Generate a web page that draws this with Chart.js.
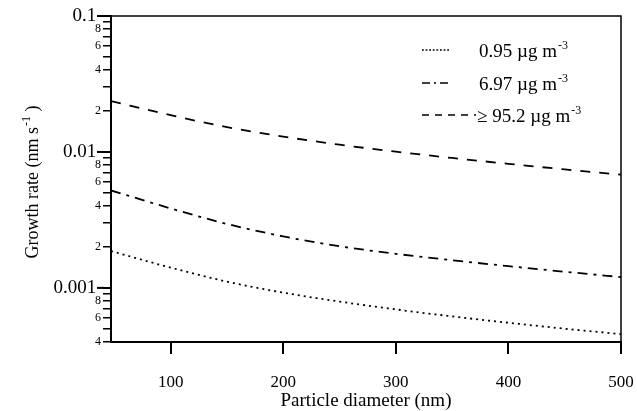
<!DOCTYPE html>
<html>
<head>
<meta charset="utf-8">
<script src="https://cdn.jsdelivr.net/npm/chart.js@4.4.0/dist/chart.umd.min.js"></script>
<style>
  body { margin: 0; background: #fff; }
  #wrap { width: 637px; height: 411px; }
</style>
</head>
<body>
<div id="wrap"><canvas id="growthChart"></canvas></div>
<script>
// Particle diameters (nm) and growth rates (nm s-1)
const diameters = [47, 100, 150, 200, 250, 300, 350, 400, 450, 500];
const rateLow = [0.001865, 0.001410, 0.001112, 0.000923, 0.000793, 0.000695, 0.000617, 0.000554, 0.000501, 0.000457];
const rateMid = [0.005211, 0.003842, 0.002955, 0.002392, 0.002025, 0.001781, 0.001598, 0.001446, 0.001315, 0.001201];
const rateHigh = [0.02363, 0.01865, 0.01522, 0.01296, 0.01131, 0.01005, 0.00903, 0.00818, 0.00744, 0.00680];

const seriesLabels = ['0.95 µg m', '6.97 µg m', '≥ 95.2 µg m'];
const unitSup = '-3';
const xTicks = [100, 200, 300, 400, 500];
const yDecades = [0.0001, 0.001, 0.01, 0.1];
const yMantissas = [1, 2, 3, 4, 5, 6, 7, 8, 9];
const yMin = 0.0004, yMax = 0.1;

const FONT = '"Liberation Serif", "Times New Roman", serif';

// dash patterns for curves and for the legend samples
const dashes = [[2, 4], [10, 6, 3, 6], [10, 9]];
const legendDashes = [[1.8, 1.8], [8, 4, 2, 4], [7, 6]];
const legendLineEnd = [449, 451, 476];

function mantissa(v) {
    const e = Math.floor(Math.log10(v) + 1e-9);
    return { m: Math.round(v / Math.pow(10, e)), e: e };
}

function toPoints(ys) {
    return diameters.map((d, i) => ({ x: d, y: ys[i] }));
}

function buildYTicks() {
    const out = [];
    yDecades.forEach(dec => {
        yMantissas.forEach(m => {
            const v = Number((m * dec).toPrecision(6));
            if (v >= yMin - 1e-12 && v <= yMax + 1e-12) out.push({ value: v, major: m === 1 });
        });
    });
    return out;
}

// draw text with a superscript part
function drawSupText(ctx, main, sup, x, y, size, supSize) {
    ctx.font = size + 'px ' + FONT;
    ctx.fillText(main, x, y);
    const w = ctx.measureText(main).width;
    ctx.font = supSize + 'px ' + FONT;
    ctx.fillText(sup, x + w + 1, y - size * 0.42);
}

const decorPlugin = {
    id: 'decor',
    afterDraw(chart) {
        const ctx = chart.ctx;
        const a = chart.chartArea;
        const yScale = chart.scales.y;
        ctx.save();
        ctx.strokeStyle = '#000';
        ctx.fillStyle = '#000';

        // top and right frame
        ctx.lineWidth = 1.5;
        ctx.beginPath();
        ctx.moveTo(a.left, a.top);
        ctx.lineTo(a.right, a.top);
        ctx.lineTo(a.right, a.bottom);
        ctx.stroke();

        // longer major ticks on the log axis
        ctx.lineWidth = 2;
        yScale.ticks.forEach(t => {
            if (mantissa(t.value).m === 1) {
                const py = yScale.getPixelForValue(t.value);
                ctx.beginPath();
                ctx.moveTo(a.left - 14, py);
                ctx.lineTo(a.left - 7, py);
                ctx.stroke();
            }
        });

        // legend
        const rowY = [50, 83, 115];
        chart.data.datasets.forEach((ds, i) => {
            ctx.lineWidth = 1.6;
            ctx.setLineDash(legendDashes[i]);
            ctx.beginPath();
            ctx.moveTo(422, rowY[i]);
            ctx.lineTo(legendLineEnd[i], rowY[i]);
            ctx.stroke();
            ctx.setLineDash([]);
            ctx.textBaseline = 'alphabetic';
            ctx.textAlign = 'left';
            drawSupText(ctx, ds.label, unitSup, i === 2 ? 477 : 479, rowY[i] + 7, 19, 12);
        });

        // y axis title (rotated)
        ctx.save();
        ctx.translate(38, 182);
        ctx.rotate(-Math.PI / 2);
        const p1 = 'Growth rate (nm s', p2 = '-1', p3 = ' )';
        ctx.font = '18px ' + FONT;
        const w1 = ctx.measureText(p1).width;
        const w3 = ctx.measureText(p3).width;
        ctx.font = '12px ' + FONT;
        const w2 = ctx.measureText(p2).width;
        const x0 = -(w1 + w2 + w3 + 1) / 2;
        ctx.font = '18px ' + FONT;
        ctx.fillText(p1, x0, 0);
        ctx.font = '12px ' + FONT;
        ctx.fillText(p2, x0 + w1 + 1, -8);
        ctx.font = '18px ' + FONT;
        ctx.fillText(p3, x0 + w1 + 1 + w2, 0);
        ctx.restore();

        // x axis title
        ctx.font = '19px ' + FONT;
        ctx.textAlign = 'center';
        ctx.fillText('Particle diameter (nm)', (a.left + a.right) / 2, 406);
        ctx.restore();
    }
};

const ctx = document.getElementById('growthChart').getContext('2d');
new Chart(ctx, {
    type: 'line',
    data: {
        datasets: [rateLow, rateMid, rateHigh].map((ys, i) => ({
            label: seriesLabels[i],
            data: toPoints(ys),
            borderColor: '#000',
            borderWidth: 1.8,
            borderDash: dashes[i],
            pointRadius: 0,
            fill: false,
            cubicInterpolationMode: 'monotone'
        }))
    },
    options: {
        responsive: true,
        maintainAspectRatio: false,
        animation: false,
        layout: { padding: { top: 16, right: 16, left: 0, bottom: 0 } },
        plugins: {
            legend: { display: false },
            tooltip: { enabled: false }
        },
        scales: {
            x: {
                type: 'linear',
                min: 47,
                max: 500,
                afterBuildTicks: scale => { scale.ticks = xTicks.map(v => ({ value: v })); },
                afterFit: scale => {
                    scale.height = 69;
                    scale.paddingLeft = 0;
                    scale.paddingRight = 0;
                },
                grid: { drawOnChartArea: false, tickLength: 12, lineWidth: 2, color: '#000' },
                border: { display: true, width: 2, color: '#000' },
                ticks: {
                    color: '#000',
                    padding: 18,
                    maxRotation: 0,
                    font: { family: FONT, size: 17 }
                }
            },
            y: {
                type: 'logarithmic',
                min: yMin,
                max: yMax,
                afterBuildTicks: scale => { scale.ticks = buildYTicks(); },
                afterFit: scale => {
                    scale.width = 111;
                    scale.paddingTop = 0;
                    scale.paddingBottom = 0;
                },
                grid: {
                    drawOnChartArea: false,
                    tickLength: 8,
                    color: '#000',
                    lineWidth: c => (c.tick && mantissa(c.tick.value).m === 1) ? 2 : 1.5
                },
                border: { display: true, width: 2, color: '#000' },
                ticks: {
                    color: '#000',
                    padding: 2,
                    autoSkip: false,
                    font: c => (c.tick && mantissa(c.tick.value).m === 1)
                        ? { family: FONT, size: 19 }
                        : { family: FONT, size: 12 },
                    callback: function (value) {
                        const mm = mantissa(value);
                        if (mm.m === 1) return value.toFixed(-mm.e) + ' ';
                        return mm.m % 2 === 0 ? String(mm.m) : '';
                    }
                }
            }
        }
    },
    plugins: [decorPlugin]
});
</script>
</body>
</html>
